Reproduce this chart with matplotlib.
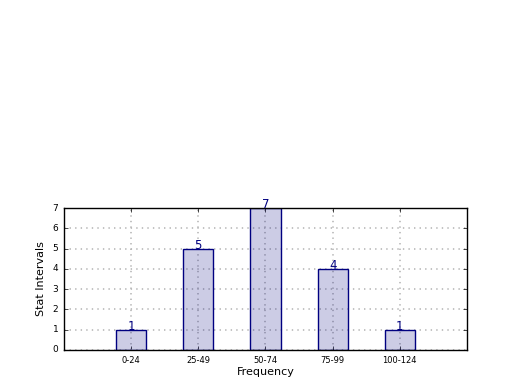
import matplotlib
matplotlib.use('Agg')
import matplotlib.pyplot as plt

intervals = ['0-24', '25-49', '50-74', '75-99', '100-124']
counts = [1, 5, 7, 4, 1]

plt.style.use('classic')
fig = plt.figure(figsize=(5.2, 3.9), dpi=100, facecolor='white')
ax = fig.add_axes([0.123, 0.1026, 0.775, 0.364])

pos = range(1, len(counts) + 1)
# light fill first, then the navy outline on top
ax.bar(pos, counts, 0.45, align='center', color='navy', alpha=0.2, edgecolor='none')
ax.bar(pos, counts, 0.45, align='center', fill=False, edgecolor='navy', linewidth=1)

for p, c in zip(pos, counts):
    ax.text(p, c - 0.15, str(c), ha='center', va='bottom', color='navy', fontsize=8.5)

ax.set_xlim(0, 6)
ax.set_ylim(0, 7)
ax.set_xticks(list(pos))
ax.set_xticklabels(intervals, fontsize=6)
ax.tick_params(axis='y', labelsize=6.5)
ax.tick_params(length=3)
ax.grid(True, color='0.72', linestyle=':', linewidth=1.2)
ax.set_axisbelow(True)
ax.set_xlabel('Frequency', fontsize=8, labelpad=2)
ax.set_ylabel('Stat Intervals', fontsize=8)

fig.savefig('out.png', dpi=100, facecolor='white')
